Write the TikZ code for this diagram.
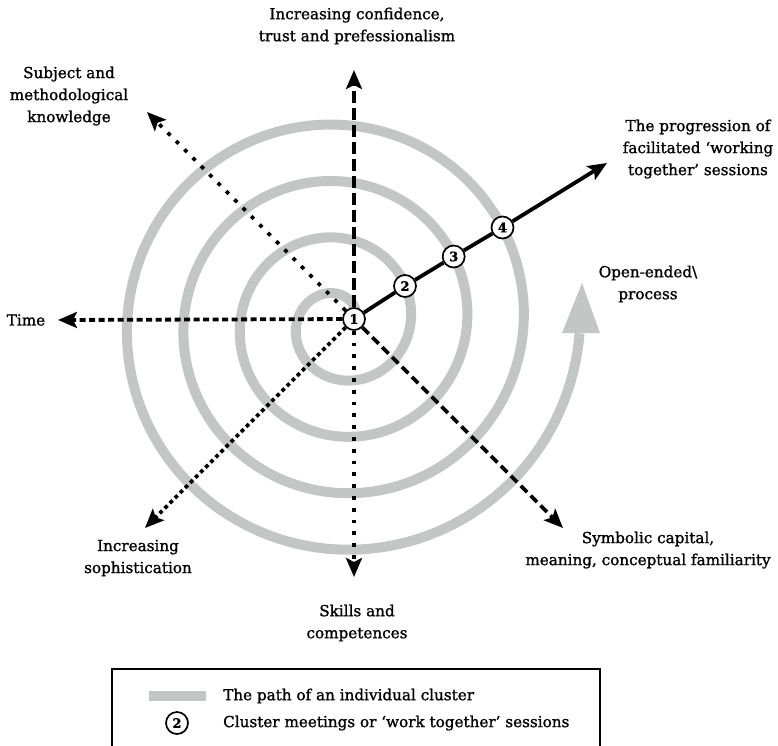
\documentclass[tikz,border=0pt]{standalone}
\usepackage{fontspec}
\setmainfont{DejaVu Serif}[FakeBold=1.2]
\usetikzlibrary{arrows.meta}
\definecolor{spiralgrey}{RGB}{196,198,197}
\pgfdeclarelayer{spirallayer}
\pgfdeclarelayer{axislayer}
\pgfsetlayers{spirallayer,axislayer,main}

\begin{document}
\begin{tikzpicture}[x=1pt,y=-1pt,
  axis/.style={line width=3.8pt, -{Stealth[length=19pt,width=16pt,inset=4pt]}},
  longdash/.style={dash pattern=on 12pt off 5pt},
  shortdash/.style={dash pattern=on 6pt off 3.5pt},
  middash/.style={dash pattern=on 9pt off 5pt},
  sparsedots/.style={dash pattern=on 3.8pt off 8pt},
  densedots/.style={dash pattern=on 3.8pt off 3.4pt},
  lbl/.style={align=center, font=\fontsize{15.2}{22}\selectfont, inner sep=0pt},
  sess/.style={circle, draw, line width=1.7pt, fill=white, minimum size=22pt,
    inner sep=0pt, font=\fontsize{13}{13}\selectfont\bfseries},
  clusterpath/.style={draw=spiralgrey, line width=10pt}
]
\useasboundingbox (0,0) rectangle (778,745);

% work-together sessions along the progression line
\node[sess] (s1) at (354,319) {1};
\node[sess] (s2) at (405,286) {2};
\node[sess] (s3) at (453.7,256.5) {3};
\node[sess] (s4) at (502.5,227.5) {4};

% arrow tips of the axes
\coordinate (tipUp) at (354,70);
\coordinate (tipLeft) at (58,320);
\coordinate (tipUL) at (147,112);
\coordinate (tipDL) at (145,528);
\coordinate (tipDown) at (354,577);
\coordinate (tipDR) at (563,528);
\coordinate (tipSess) at (607,163);

% spiral path of one cluster, opening outwards
\begin{pgfonlayer}{spirallayer}
  \draw[clusterpath] plot[domain=0:25.09, samples=600, variable=\t]
    ({339.5+(14.5+9*\t)*cos(\t r)}, {323-(14.5+9*\t)*sin(\t r)});
  \fill[spiralgrey] (562,333) -- (582,283) -- (600,333) -- cycle;
\end{pgfonlayer}

% axes radiating from the first meeting
\begin{pgfonlayer}{axislayer}
  \draw[axis, longdash] (s1) -- (tipUp);
  \draw[axis, shortdash] (s1) -- (tipLeft);
  \draw[axis, sparsedots] (s1) -- (tipUL);
  \draw[axis, densedots] (s1) -- (tipDL);
  \draw[axis, sparsedots] (s1) -- (tipDown);
  \draw[axis, middash] (s1) -- (tipDR);
  \draw[axis] (s1) -- (s2) -- (s3) -- (s4) -- (tipSess);
\end{pgfonlayer}

% axis labels
\node[lbl] (lUp) at (357,26) {Increasing confidence,\\trust and prefessionalism};
\node[lbl] (lUL) at (69,96) {Subject and\\methodological\\knowledge};
\node[lbl] (lSess) at (698,149) {The progression of\\facilitated ‘working\\together’ sessions};
\node[lbl] (lOpen) at (648,284) {Open-ended\textbackslash\\process};
\node[lbl] (lTime) at (26,320) {Time};
\node[lbl] (lDL) at (138,558) {Increasing\\sophistication};
\node[lbl] (lDown) at (357,623) {Skills and\\competences};
\node[lbl] (lDR) at (648,550) {Symbolic capital,\\meaning, conceptual familiarity};

% legend
\draw[line width=1.5pt] (112,746) -- (112,669) -- (600,669) -- (600,746);
\draw[clusterpath] (149,696) -- (206,696);
\node[sess] (legSess) at (177,723) {2};
\node[lbl, anchor=west] (legPath) at (223,696) {The path of an individual cluster};
\node[lbl, anchor=west] (legMeet) at (223,723) {Cluster meetings or ‘work together’ sessions};
\end{tikzpicture}
\end{document}
